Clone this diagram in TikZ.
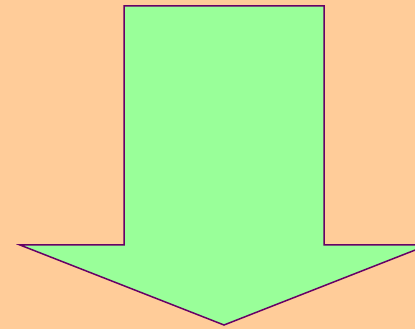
\documentclass[tikz,border=0pt]{standalone}
\usepackage{tikz}
\definecolor{peach}{HTML}{FFCC99}
\definecolor{leaf}{HTML}{99FF99}
\definecolor{plum}{HTML}{660066}
\tikzset{
  downarrow/.style={
    fill=leaf,
    draw=plum,
    line width=1.5pt,
    line join=miter
  }
}
\begin{document}
\begin{tikzpicture}[x=1pt,y=1pt]
        \clip (0,0) rectangle (415,329);
        \fill[peach] (0,0) rectangle (415,329);
        \draw[downarrow] (124,323)--(324,323)--(324,84)--(428,84)--(224,4)--(20,84)--(124,84)--cycle;
    \end{tikzpicture}
\end{document}
